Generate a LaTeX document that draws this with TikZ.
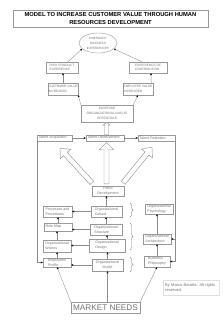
\documentclass[tikz,border=0pt]{standalone}
\usepackage{fontspec}
\setmainfont{Liberation Sans}
\usetikzlibrary{calc,shapes.geometric,arrows.meta,decorations.pathreplacing}
\definecolor{tc}{gray}{0.45}
\definecolor{bc}{gray}{0.6}
\definecolor{lc}{gray}{0.55}
\newcommand\blkarrow[5]{%
  \coordinate (bkH) at ($(#2)!#5!(#1)$);
  \draw[blk] ($(#1)!#3!90:(#2)$) -- ($(bkH)!#3!90:(#2)$) -- ($(bkH)!#4!90:(#2)$) -- (#2)
     -- ($(bkH)!#4!-90:(#2)$) -- ($(bkH)!#3!-90:(#2)$) -- ($(#1)!#3!-90:(#2)$) -- cycle;}
\tikzset{
  bx/.style={draw=bc, line width=0.4pt, text=tc, inner sep=0pt, align=left,
     font=\fontsize{3.6}{4.9}\selectfont},
  capbx/.style={bx, font=\fontsize{3.2}{4.8}\selectfont},
  ttl/.style={draw=bc, line width=0.4pt, text=black, inner sep=0pt, align=center,
     font=\bfseries\fontsize{5.8}{7.8}\selectfont},
  arr/.style={draw=lc, line width=0.35pt, -{Stealth[length=2.2pt,width=2pt,color=black,fill=black]}},
  ln/.style={draw=lc, line width=0.35pt},
  blk/.style={draw=lc, line width=0.4pt, fill=white, line join=miter},
  brc/.style={draw=lc, line width=0.4pt, decorate, decoration={brace, amplitude=3pt}},
}
\begin{document}
\begin{tikzpicture}[x=1pt,y=-1pt]
\fill[white] (0,0) rectangle (222,320);
\useasboundingbox (0,0) rectangle (222,320);

\node[ttl, minimum width=195pt, minimum height=17pt] (title) at (110.5,18.5)
  {MODEL TO INCREASE CUSTOMER VALUE THROUGH HUMAN\\RESOURCES DEVELOPMENT};

\node[draw=bc, line width=0.4pt, ellipse, minimum width=38pt, minimum height=20pt, inner sep=0pt,
  text=tc, align=center, font=\fontsize{3.1}{5}\selectfont] (el) at (98,43)
  {EMERGENT\\BUSINESS\\EXPERIENCES};

\node[capbx, minimum width=32pt, minimum height=11pt] (rp) at (62,67.5) {RICH PRODUCT\\EXPERIENCE};
\node[capbx, minimum width=38pt, minimum height=11pt] (ec) at (148,67.5) {EXPERIENCE OF\\CONTRIBUTION};
\node[capbx, minimum width=30pt, minimum height=12pt] (cv) at (63,89) {CUSTOMER VALUE\\INCREASED};
\node[capbx, minimum width=30pt, minimum height=12pt] (ev) at (138,89) {EMPLOYEE VALUE\\INCREASED};
\node[capbx, align=center, minimum width=52pt, minimum height=17pt] (inc) at (107,113.5)
  {INCREASE\\ORGANIZATIONAL NUCLEI\\POTENTIALS};

\node[bx, minimum width=35pt, minimum height=6pt, text width=32pt, inner xsep=1.5pt] (ta) at (54.5,138) {Talent Acquisition};
\node[bx, minimum width=38pt, minimum height=6pt, text width=35pt, inner xsep=1.5pt] (td) at (105,138) {Talent Development};
\node[bx, minimum width=37pt, minimum height=6pt, text width=34pt, inner xsep=1.5pt] (tr) at (156.5,138) {Talent Retention};

\node[bx, align=center, minimum width=32pt, minimum height=10pt] (pd) at (108,191) {Patho\\Development};
\node[bx, minimum width=31pt, minimum height=11pt] (oc) at (106.5,211.5) {Organizational\\Culture};
\node[bx, minimum width=29pt, minimum height=11pt] (pp) at (57.5,211.5) {Processes and\\Procedures};
\node[bx, minimum width=28pt, minimum height=10pt] (op) at (159,209) {Organizational\\Psychology};
\node[bx, minimum width=28pt, minimum height=8pt, text width=25pt, inner xsep=1.5pt] (rm) at (58,227) {Role Map};
\node[bx, minimum width=32pt, minimum height=11pt] (os) at (106,229.5) {Organizational\\Structure};
\node[bx, minimum width=28pt, minimum height=10pt] (oa) at (157,239) {Organizational\\Architecture};
\node[bx, minimum width=28pt, minimum height=12pt] (ow) at (57,246) {Organizational\\Wishes};
\node[bx, minimum width=36pt, minimum height=13pt] (od) at (107,245.5) {Organizational\\Design};
\node[bx, minimum width=28pt, minimum height=9pt] (ep) at (57,262.5) {Employees\\Profile};
\node[bx, align=center, minimum width=31pt, minimum height=12pt] (om) at (107.5,265) {Organizational\\Model};
\node[bx, minimum width=26pt, minimum height=11pt] (bp) at (157,261.5) {Business\\Philosophy};

\node[bx, align=center, minimum width=69pt, minimum height=11pt, font=\fontsize{8.2}{9}\selectfont] (mn) at (105.5,307.5) {MARKET NEEDS};

\node[draw=gray!25, line width=0.4pt, text=tc, align=left, anchor=west, inner xsep=2pt, inner ysep=0pt,
  text width=52pt, minimum height=15pt, font=\fontsize{4}{5.8}\selectfont] (cr) at (163,287.5)
  {By Marco Baratta. All rights\\reserved.};

% top connectors
\draw[arr] ($(rp.north)+(6,0)$) -- (el.200);
\draw[arr] ($(ec.north)+(-6,0)$) -- (el.340);
\draw[arr] (cv.north) -- (cv.north |- rp.south);
\draw[arr] ($(ev.north east)+(-2,0)$) -- ($(ec.south)+(3,0)$);
\draw[arr] (inc.north west) -- (cv.south east);
\draw[arr] (inc.north east) -- (ev.south);

% small block arrow
\coordinate (s1) at ($(td.north)+(1.5,0)$);
\coordinate (s2) at ($(inc.south)+(-0.5,0)$);
\blkarrow{s1}{s2}{2pt}{3.5pt}{3pt}

% talent row
\draw[arr] (ta.east) -- (td.west);
\draw[arr] (td.east) -- (tr.west);

% big block arrows
\coordinate (v1a) at ($(pd.north)+(-1.5,-2)$);
\coordinate (v1b) at ($(td.south)+(1.5,1.5)$);
\blkarrow{v1a}{v1b}{2.5pt}{7pt}{7pt}
\coordinate (v2a) at ($(pd.north west)+(0,-3)$);
\coordinate (v2b) at ($(ta.south)+(5.5,7)$);
\blkarrow{v2a}{v2b}{2.5pt}{7pt}{8pt}
\coordinate (v3a) at ($(pd.north east)+(-1,-3)$);
\coordinate (v3b) at ($(tr.south)+(-4.5,6)$);
\blkarrow{v3a}{v3b}{2.5pt}{7pt}{8pt}

% outer lines
\draw[arr] (ta.south west) -- (ta.south west |- ep.west) -- (ep.west);
\draw[arr] (tr.south east) -- (tr.south east |- bp.east) -- (bp.east);
\draw[arr] (tr.south east |- oa.east) -- (oa.east);

% inner connectors
\draw[arr] (oc.west) -- (oc.west -| pp.east);
\draw[arr] (oc.north) -- (oc.north |- pd.south);
\draw[arr] (os.west) -- (os.west -| rm.east);
\draw[arr] (os.north) -- (os.north |- oc.south);
\draw[arr] (od.west) -- (od.west -| ow.east);
\draw[arr] (od.north) -- (od.north |- os.south);
\draw[arr] (om.west) -- (om.west -| ep.east);
\draw[arr] (om.north) -- (om.north |- od.south);
\draw[arr] (ep.north) -- (ep.north |- ow.south);
\draw[arr] (ow.north) -- (ow.north |- rm.south);
\draw[arr] (rm.north) -- (rm.north |- pp.south);
\draw[arr] (oa.north) -- (oa.north |- op.south);
\draw[arr] (bp.north) -- (bp.north |- oa.south);

% market needs
\draw[arr] (mn.north west) -- (ep.south);
\draw[arr] (mn.north -| om.south) -- (om.south);
\draw[arr] (mn.north east) -- (bp.south);

% braces
\draw[brc] (130,203) -- (130,217);
\draw[brc] (130,223) -- (130,250);
\draw[brc] (130,257) -- (130,272);
\end{tikzpicture}
\end{document}
